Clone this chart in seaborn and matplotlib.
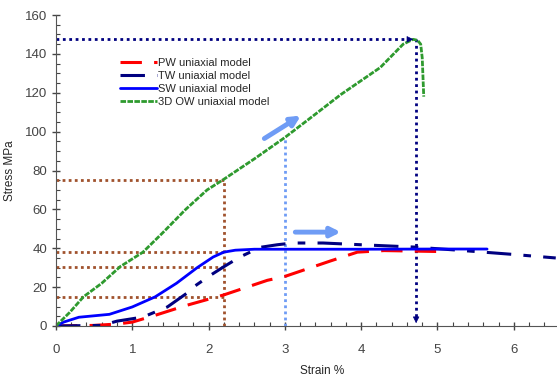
import numpy as np
import pandas as pd
import matplotlib
matplotlib.use("Agg")
import matplotlib.pyplot as plt
import seaborn as sns
from matplotlib.ticker import MultipleLocator

# curves (strain %, stress MPa)
pw_strain = [0, 0.5, 0.8, 1.0, 1.3, 1.7, 2.2, 2.77, 3.0, 3.6, 3.95, 4.3, 5.04]
pw_stress = [0, 0.3, 1.0, 2.0, 5.5, 10.5, 16, 23.5, 25.5, 33.5, 38, 38.8, 38.3]

tw_strain = [0, 0.6, 0.8, 1.14, 1.46, 1.72, 1.8, 2.02, 2.2, 2.41, 2.68, 2.9, 3.1, 3.5, 4.0, 4.7, 5.34, 6.0, 6.55]
tw_stress = [0, 0.3, 2.5, 4.6, 9.8, 17, 20, 26, 30.5, 35.5, 40.5, 41.8, 42.7, 42.7, 41.8, 40.6, 38.8, 36.8, 35]

sw_strain = [0, 0.1, 0.3, 0.7, 1.0, 1.3, 1.58, 1.85, 2.06, 2.2, 2.35, 2.6, 4.0, 5.0, 5.65]
sw_stress = [0, 2, 4.5, 6, 9.8, 15, 22, 30, 35.5, 38, 39, 39.5, 39.5, 39.6, 39.6]

ow_strain = [0, 0.05, 0.18, 0.36, 0.6, 0.84, 1.14, 1.4, 1.7, 1.98, 2.2, 2.6, 3.0, 3.4, 3.73,
             4.25, 4.55, 4.68, 4.74, 4.78, 4.80, 4.81, 4.82]
ow_stress = [0, 2, 7, 15, 22, 30.5, 38, 48, 60, 70, 75.5, 86, 97, 109, 119,
             133, 145, 147.5, 147, 145, 138, 128, 118]

# guide values
guide_strain = 2.2
guide_stress = [75, 38, 30.5, 15]
peak_strain = 4.72
peak_stress = 147.5
mid_strain = 3.0
mid_stress = 97

sns.set_style("ticks")
plt.rcParams["font.family"] = ["Liberation Sans", "DejaVu Sans"]

fig = plt.figure(figsize=(5.57, 3.76), dpi=100)
ax = fig.add_axes([0.1005, 0.133, 0.9, 0.827])

brown = "#a0522d"
navy = "#000080"
light = "#6f9cf5"

# brown dotted guides
for s in guide_stress:
    ax.plot([0, guide_strain], [s, s], color=brown, lw=2, linestyle=(0, (1, 1.2)))
ax.plot([guide_strain, guide_strain], [0, guide_stress[0]], color=brown, lw=2, linestyle=(0, (1, 1.2)))

# peak guides with arrow heads
ax.plot([0, peak_strain - 0.08], [peak_stress, peak_stress], color=navy, lw=2, linestyle=(0, (1, 1.3)))
ax.plot([peak_strain, peak_strain], [peak_stress, 3], color=navy, lw=2, linestyle=(0, (1, 1.3)))
ax.annotate("", xy=(peak_strain, peak_stress), xytext=(peak_strain - 0.12, peak_stress),
            arrowprops=dict(arrowstyle="-|>", color=navy, lw=0.5, mutation_scale=10))
ax.annotate("", xy=(peak_strain, 0), xytext=(peak_strain, 6),
            arrowprops=dict(arrowstyle="-|>", color=navy, lw=0.5, mutation_scale=10))

ax.plot([mid_strain, mid_strain], [0, mid_stress], color=light, lw=2, linestyle=(0, (1, 1.2)))

pw = pd.DataFrame({"strain": pw_strain, "stress": pw_stress})
tw = pd.DataFrame({"strain": tw_strain, "stress": tw_stress})
sw = pd.DataFrame({"strain": sw_strain, "stress": sw_stress})
ow = pd.DataFrame({"strain": ow_strain, "stress": ow_stress})

sns.lineplot(data=pw, x="strain", y="stress", ax=ax, sort=False, estimator=None,
             color="#ff0000", lw=2.2, linestyle=(0, (7, 4)), label="PW uniaxial model")
sns.lineplot(data=tw, x="strain", y="stress", ax=ax, sort=False, estimator=None,
             color=navy, lw=2.2, linestyle=(0, (8, 4, 2.5, 4)), label="TW uniaxial model")
sns.lineplot(data=sw, x="strain", y="stress", ax=ax, sort=False, estimator=None,
             color="#0000ff", lw=2, label="SW uniaxial model")
sns.lineplot(data=ow, x="strain", y="stress", ax=ax, sort=False, estimator=None,
             color="#2e9a2e", lw=2, linestyle=(0, (2, 0.5)), label="3D OW uniaxial model")

# light blue arrows
ax.annotate("", xy=(3.24, 109), xytext=(2.7, 95.7),
            arrowprops=dict(arrowstyle="-|>", color=light, lw=3.5, mutation_scale=14))
ax.annotate("", xy=(3.77, 48.3), xytext=(3.1, 48.3),
            arrowprops=dict(arrowstyle="-|>", color=light, lw=3.5, mutation_scale=14))

ax.set_xlim(0, 6.57)
ax.set_ylim(0, 160)
ax.xaxis.set_major_locator(MultipleLocator(1))
ax.xaxis.set_minor_locator(MultipleLocator(0.2))
ax.yaxis.set_major_locator(MultipleLocator(20))
ax.yaxis.set_minor_locator(MultipleLocator(5))
ax.tick_params(which="major", direction="inout", length=6, width=1, colors="#444444", labelsize=9.5)
ax.tick_params(axis="x", which="major", pad=10)
ax.tick_params(which="minor", direction="in", length=3, width=0.8, colors="#444444")
for side in ["top", "right"]:
    ax.spines[side].set_visible(False)
for side in ["left", "bottom"]:
    ax.spines[side].set_color("#555555")

ax.set_xlabel("Strain %", fontsize=8.5)
ax.xaxis.set_label_coords(0.53, -0.125)
ax.set_ylabel("Stress MPa", fontsize=8.5, labelpad=6)

ax.legend(loc="upper left", bbox_to_anchor=(0.118, 0.875), frameon=False, fontsize=8,
          handlelength=3.4, handletextpad=0.1, labelspacing=0.25, borderaxespad=0)

fig.savefig("out.png", dpi=100)
